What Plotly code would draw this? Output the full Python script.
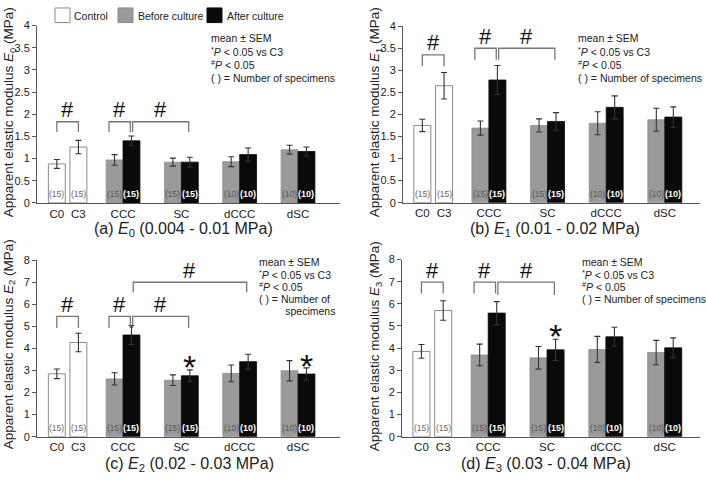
import plotly.graph_objects as go

W, H = 706, 481
FONT = "Liberation Sans, Arial, Helvetica, sans-serif"

groups = ["CCC", "SC", "dCCC", "dSC"]
controls = ["C0", "C3"]
group_x = [2, 3, 4, 5]
control_x = [0.865, 1.235]
n_control = [15, 15]
n_before = [15, 15, 10, 10]
n_after = [15, 15, 10, 10]

# panel data (mean, SEM)
E0_control = [0.88, 1.26]
E0_control_sem = [0.10, 0.15]
E0_before = [0.97, 0.92, 0.93, 1.20]
E0_before_sem = [0.12, 0.09, 0.11, 0.10]
E0_after = [1.40, 0.92, 1.09, 1.16]
E0_after_sem = [0.11, 0.11, 0.15, 0.10]

E1_control = [1.75, 2.65]
E1_control_sem = [0.14, 0.30]
E1_before = [1.69, 1.75, 1.80, 1.88]
E1_before_sem = [0.16, 0.15, 0.26, 0.26]
E1_after = [2.78, 1.84, 2.16, 1.94]
E1_after_sem = [0.33, 0.20, 0.26, 0.23]

E2_control = [2.85, 4.27]
E2_control_sem = [0.22, 0.42]
E2_before = [2.62, 2.56, 2.87, 2.99]
E2_before_sem = [0.28, 0.24, 0.38, 0.46]
E2_after = [4.61, 2.76, 3.40, 2.84]
E2_after_sem = [0.43, 0.27, 0.34, 0.28]

E3_control = [3.85, 5.70]
E3_control_sem = [0.31, 0.44]
E3_before = [3.69, 3.56, 3.94, 3.80]
E3_before_sem = [0.49, 0.51, 0.59, 0.55]
E3_after = [5.58, 3.92, 4.51, 4.01]
E3_after_sem = [0.52, 0.48, 0.43, 0.45]

captions = ["(a) <i>E</i><sub>0</sub> (0.004 - 0.01 MPa)",
            "(b) <i>E</i><sub>1</sub> (0.01 - 0.02 MPa)",
            "(c) <i>E</i><sub>2</sub> (0.02 - 0.03 MPa)",
            "(d) <i>E</i><sub>3</sub> (0.03 - 0.04 MPa)"]
ytitles = ["Apparent elastic modulus <i>E</i><sub>%d</sub> (MPa)" % i for i in range(4)]

# brackets: (x1, x2, ytop, ylegs) in data units
brackets = [
    [(0.865, 1.235, 1.83, 1.60), (1.76, 2.125, 1.83, 1.60), (2.165, 3.125, 1.83, 1.60)],
    [(0.865, 1.235, 3.35, 3.09), (1.76, 2.125, 3.50, 3.24), (2.165, 3.125, 3.50, 3.24)],
    [(0.865, 1.235, 5.45, 4.93), (1.76, 2.125, 5.45, 4.93), (2.165, 3.125, 5.45, 4.93),
     (2.175, 4.12, 7.00, 6.55)],
    [(0.865, 1.235, 6.98, 6.46), (1.76, 2.125, 6.98, 6.46), (2.165, 3.125, 6.98, 6.40)],
]
# asterisks: (x, y)
asterisks = [[], [], [(3.145, 3.46), (5.145, 3.53)], [(3.145, 4.85)]]

panels = [
    (E0_control, E0_control_sem, E0_before, E0_before_sem, E0_after, E0_after_sem),
    (E1_control, E1_control_sem, E1_before, E1_before_sem, E1_after, E1_after_sem),
    (E2_control, E2_control_sem, E2_before, E2_before_sem, E2_after, E2_after_sem),
    (E3_control, E3_control_sem, E3_before, E3_before_sem, E3_after, E3_after_sem),
]

# pixel geometry of each panel: x0, x1, ytop, ybottom
geom = [(37, 340, 20, 202), (403, 700, 20.7, 201.7), (37, 340, 260.7, 441.7), (402, 700, 260, 441.7)]
xranges = [[0.525, 5.72], [0.535, 5.6], [0.525, 5.72], [0.535, 5.6]]
yranges = [[0, 4], [0, 4], [0, 8], [0, 8]]
ydticks = [0.5, 0.5, 1, 1]
ytitle_pos = [(9, 109), (375, 109), (9, 347), (375, 349)]
caption_pos = [(183, 229), (555, 229), (189, 470), (546, 470)]
stats_pos = [(209, 33, 13.7), (576, 33, 13.7), (257, 263, 12.5), (580, 263, 12.5)]

BW = 0.29
OFF = 0.145
ERRC = "#333333"

fig = go.Figure()
annotations = []
shapes = []

for i, (cm, cs, bm, bs, am, as_) in enumerate(panels):
    sx = "" if i == 0 else str(i + 1)
    xa, ya = "x" + sx, "y" + sx
    fig.add_trace(go.Bar(x=control_x, y=cm, width=BW, xaxis=xa, yaxis=ya,
                         marker=dict(color="white", line=dict(color="#8a8a8a", width=1)),
                         error_y=dict(type="data", array=cs, color=ERRC, thickness=1.1, width=3),
                         showlegend=False))
    fig.add_trace(go.Bar(x=[g - OFF for g in group_x], y=bm, width=BW, xaxis=xa, yaxis=ya,
                         marker=dict(color="#9a9a9a", line=dict(color="#8f8f8f", width=0.8)),
                         error_y=dict(type="data", array=bs, color=ERRC, thickness=1.1, width=3),
                         showlegend=False))
    fig.add_trace(go.Bar(x=[g + OFF for g in group_x], y=am, width=BW, xaxis=xa, yaxis=ya,
                         marker=dict(color="#0a0a0a", line=dict(color="#0a0a0a", width=0.8)),
                         error_y=dict(type="data", array=as_, color=ERRC, thickness=1.1, width=3),
                         showlegend=False))
    x0, x1, yt, yb = geom[i]
    fig.layout["xaxis" + sx] = dict(
        domain=[x0 / W, x1 / W], range=xranges[i], anchor=ya,
        showline=True, linecolor="#555", linewidth=1, ticks="", showgrid=False, zeroline=False,
        tickmode="array", tickvals=control_x + group_x, ticktext=controls + groups,
        tickfont=dict(size=11.5, color="#222", family=FONT), fixedrange=True)
    fig.layout["yaxis" + sx] = dict(
        domain=[1 - yb / H, 1 - yt / H], range=yranges[i], anchor=xa,
        showline=True, linecolor="#555", linewidth=1, ticks="outside", ticklen=4, tickcolor="#555",
        dtick=ydticks[i], tick0=0, showgrid=False, zeroline=False,
        tickfont=dict(size=11, color="#222", family=FONT), fixedrange=True)

    # N labels
    for xv, n in zip(control_x, n_control):
        annotations.append(dict(x=xv, y=0, xref=xa, yref=ya, text="(%d)" % n, showarrow=False,
                                yanchor="middle", yshift=9, font=dict(size=8.5, color="#666", family=FONT)))
    for g, n in zip(group_x, n_before):
        annotations.append(dict(x=g - OFF, y=0, xref=xa, yref=ya, text="(%d)" % n, showarrow=False,
                                yanchor="middle", yshift=9, font=dict(size=8.5, color="#555", family=FONT)))
    for g, n in zip(group_x, n_after):
        annotations.append(dict(x=g + OFF, y=0, xref=xa, yref=ya, text="<b>(%d)</b>" % n, showarrow=False,
                                yanchor="middle", yshift=9, font=dict(size=9, color="white", family=FONT)))

    # brackets
    for (bx1, bx2, ytop, yleg) in brackets[i]:
        shapes.append(dict(type="path", xref=xa, yref=ya,
                           path="M %f %f L %f %f L %f %f L %f %f" % (bx1, yleg, bx1, ytop, bx2, ytop, bx2, yleg),
                           line=dict(color="#777", width=1.3)))
        annotations.append(dict(x=(bx1 + bx2) / 2, y=ytop, xref=xa, yref=ya, text="#", showarrow=False,
                                yanchor="middle", yshift=12, font=dict(size=22, color="#111", family=FONT)))
    for (ax_, ay_) in asterisks[i]:
        annotations.append(dict(x=ax_, y=ay_, xref=xa, yref=ya, text="*", showarrow=False,
                                yanchor="middle", yshift=-7, font=dict(size=34, color="#111", family=FONT)))

    # y-axis title
    tx, ty = ytitle_pos[i]
    annotations.append(dict(x=tx / W, y=1 - ty / H, xref="paper", yref="paper", text=ytitles[i],
                            textangle=-90, showarrow=False, xanchor="center", yanchor="middle",
                            font=dict(size=13.5, color="#222", family=FONT)))
    # caption
    cx, cy = caption_pos[i]
    annotations.append(dict(x=cx / W, y=1 - cy / H, xref="paper", yref="paper", text=captions[i],
                            showarrow=False, xanchor="center", yanchor="middle",
                            font=dict(size=16, color="#222", family=FONT)))
    # stats text
    sxp, syp, step = stats_pos[i]
    if i == 2:
        lines = ["mean ± SEM", "<sup>*</sup><i>P</i> < 0.05 vs C3", "<sup>#</sup><i>P</i> < 0.05",
                 "( ) = Number of", "         specimens"]
    else:
        lines = ["mean ± SEM", "<sup>*</sup><i>P</i> < 0.05 vs C3", "<sup>#</sup><i>P</i> < 0.05",
                 "( ) = Number of specimens"]
    for k, ln in enumerate(lines):
        annotations.append(dict(x=sxp / W, y=1 - (syp + k * step) / H, xref="paper", yref="paper",
                                text=ln, showarrow=False, xanchor="left", yanchor="middle",
                                font=dict(size=10.5, color="#222", family=FONT)))

# legend (manual)
legend_items = [("Control", "white", "#8a8a8a", 55, 72),
                ("Before culture", "#9a9a9a", "#8a8a8a", 118, 136),
                ("After culture", "#0a0a0a", "#0a0a0a", 207, 225)]
for label, fill, edge, bx, tx in legend_items:
    shapes.append(dict(type="rect", xref="paper", yref="paper",
                       x0=bx / W, x1=(bx + 15) / W, y0=1 - 17 / H, y1=1 - 2 / H,
                       fillcolor=fill, line=dict(color=edge, width=1)))
    annotations.append(dict(x=tx / W, y=1 - 10 / H, xref="paper", yref="paper", text=label,
                            showarrow=False, xanchor="left", yanchor="middle",
                            font=dict(size=10.5, color="#222", family=FONT)))

fig.update_layout(width=W, height=H, margin=dict(l=0, r=0, t=0, b=0),
                  paper_bgcolor="white", plot_bgcolor="white", barmode="overlay",
                  annotations=annotations, shapes=shapes, showlegend=False,
                  font=dict(family=FONT))
fig.write_html("out.html", post_script="document.body.style.margin='0px';",
               config={"displayModeBar": False})
